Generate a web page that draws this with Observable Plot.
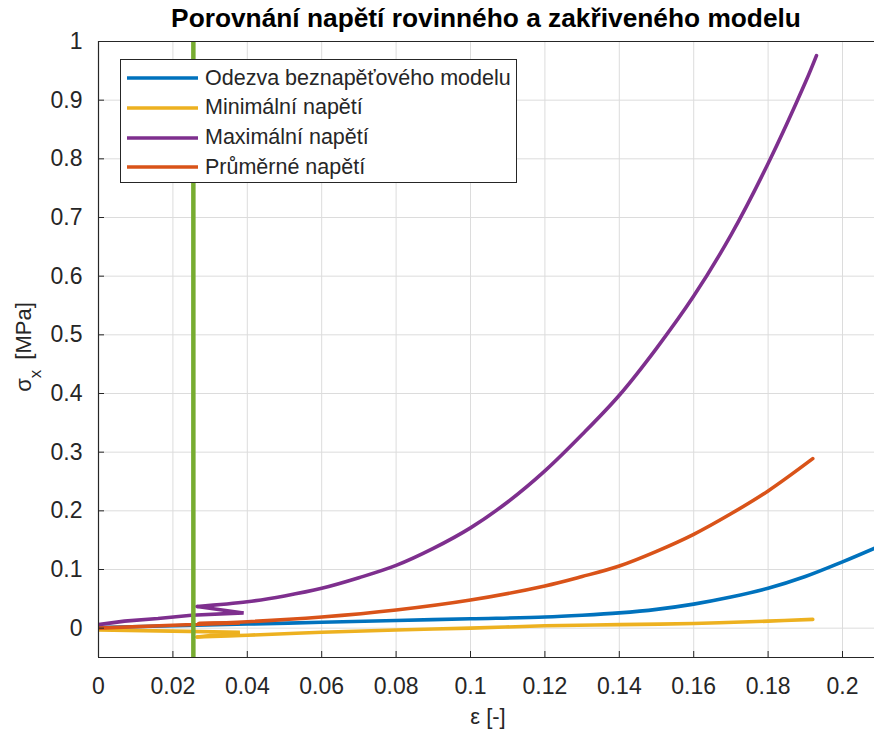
<!DOCTYPE html>
<html><head><meta charset="utf-8">
<script src="https://cdn.jsdelivr.net/npm/d3@7"></script>
<script src="https://cdn.jsdelivr.net/npm/@observablehq/plot@0.6"></script>
<style>
body{margin:0;background:#fff;}
#wrap{position:relative;width:874px;height:730px;overflow:hidden;font-family:"Liberation Sans",Arial,sans-serif;background:#fff;}
#title{position:absolute;left:86px;width:800px;top:3px;text-align:center;font-weight:bold;font-size:26.3px;line-height:30px;color:#000;}
#legend{position:absolute;left:120px;top:59px;width:397px;height:124px;border:1px solid #262626;background:#fff;box-sizing:border-box;}
.lrow{position:absolute;left:0;height:30px;display:flex;align-items:center;font-size:21.5px;color:#262626;}
.lrow svg{margin-left:6px;margin-right:7px;}
#chart{position:absolute;left:0;top:0;}
</style></head>
<body><div id="wrap"><div id="chart"></div><div id="title">Porovnání napětí rovinného a zakřiveného modelu</div><div id="legend"></div></div>
<script>
// series names (legend order)
const seriesNames = ["Odezva beznapěťového modelu", "Minimální napětí", "Maximální napětí", "Průměrné napětí"];
const seriesColors = ["#0072BD", "#EDB120", "#7E2F8E", "#D95319"];

// Odezva beznapěťového modelu (blue)
const epsBlue = [0, 0.02, 0.04, 0.06, 0.08, 0.1, 0.12, 0.13, 0.14, 0.15, 0.16, 0.17, 0.18, 0.19, 0.2, 0.21];
const sigBlue = [0.001, 0.004, 0.007, 0.010, 0.013, 0.016, 0.019, 0.022, 0.026, 0.032, 0.041, 0.053, 0.068, 0.088, 0.113, 0.14];

// Minimální napětí (yellow): initial hook, then main branch
const epsMinHook = [0, 0.02, 0.038, 0.0265];
const sigMinHook = [-0.003, -0.005, -0.007, -0.015];
const epsMin = [0.0265, 0.04, 0.06, 0.08, 0.1, 0.12, 0.14, 0.16, 0.18, 0.192];
const sigMin = [-0.015, -0.012, -0.007, -0.003, 0.0, 0.004, 0.006, 0.008, 0.012, 0.015];

// Maximální napětí (purple): initial hook, then main branch
const epsMaxHook = [0, 0.007, 0.016, 0.025, 0.039, 0.0265];
const sigMaxHook = [0.006, 0.012, 0.0165, 0.022, 0.026, 0.037];
const epsMax = [0.0265, 0.04, 0.05, 0.06, 0.07, 0.08, 0.09, 0.1, 0.11, 0.12, 0.13, 0.14, 0.15, 0.16, 0.17, 0.18, 0.19, 0.193];
const sigMax = [0.037, 0.045, 0.055, 0.068, 0.086, 0.107, 0.136, 0.171, 0.215, 0.268, 0.33, 0.397, 0.477, 0.566, 0.67, 0.792, 0.93, 0.976];

// Průměrné napětí (orange): initial hook, then main branch
const epsAvgHook = [0, 0.02, 0.038, 0.027];
const sigAvgHook = [0.0, 0.005, 0.009, 0.008];
const epsAvg = [0.027, 0.04, 0.06, 0.08, 0.1, 0.12, 0.13, 0.14, 0.15, 0.16, 0.17, 0.18, 0.192];
const sigAvg = [0.008, 0.011, 0.019, 0.031, 0.048, 0.072, 0.088, 0.106, 0.131, 0.16, 0.195, 0.234, 0.289];

// vertical marker (green)
const markerEps = [0.0255];

// axes
const xTicks = [0, 0.02, 0.04, 0.06, 0.08, 0.1, 0.12, 0.14, 0.16, 0.18, 0.2];
const yTicks = [0, 0.1, 0.2, 0.3, 0.4, 0.5, 0.6, 0.7, 0.8, 0.9, 1];
const xDomain = [0, 0.2086];
const yDomain = [-0.05, 1];

const toRows = (xs, ys) => xs.map((x, i) => ({x, y: ys[i]}));

const lw = 3.6;
const smooth = (c) => ({x: "x", y: "y", stroke: c, strokeWidth: lw, clip: true, curve: "catmull-rom", strokeLinejoin: "round"});
const sharp = (c) => ({x: "x", y: "y", stroke: c, strokeWidth: lw, clip: true, curve: "linear", strokeLinejoin: "miter"});
const plot = Plot.plot({
  width: 874, height: 730,
  marginLeft: 98, marginRight: 0, marginTop: 41, marginBottom: 73,
  style: {fontFamily: "'Liberation Sans', Arial, sans-serif", fontSize: "23px", color: "#262626", background: "#fff"},
  x: {domain: xDomain, ticks: xTicks, label: null},
  y: {domain: yDomain, ticks: yTicks, label: null},
  marks: [
    Plot.gridX(xTicks, {stroke: "#dcdcdc", strokeOpacity: 1, strokeWidth: 1}),
    Plot.gridY(yTicks, {stroke: "#dcdcdc", strokeOpacity: 1, strokeWidth: 1}),
    Plot.line(toRows(epsBlue, sigBlue), smooth(seriesColors[0])),
    Plot.line(toRows(epsMinHook, sigMinHook), sharp(seriesColors[1])),
    Plot.line(toRows(epsMin, sigMin), smooth(seriesColors[1])),
    Plot.line(toRows(epsMaxHook, sigMaxHook), sharp(seriesColors[2])),
    Plot.line(toRows(epsMax, sigMax), smooth(seriesColors[2])),
    Plot.line(toRows(epsAvgHook, sigAvgHook), sharp(seriesColors[3])),
    Plot.line(toRows(epsAvg, sigAvg), smooth(seriesColors[3])),
    Plot.ruleX(markerEps, {stroke: "#77AC30", strokeWidth: 4.5}),
    Plot.ruleX([xDomain[0]], {stroke: "#262626", strokeWidth: 1.2}),
    Plot.ruleY([yDomain[0]], {stroke: "#262626", strokeWidth: 1.2}),
    Plot.ruleY([yDomain[1]], {stroke: "#262626", strokeWidth: 1.2}),
    Plot.axisX(xTicks, {tickSize: -6, tickPadding: 26, tickFormat: d => String(+d.toFixed(2)), fill: "#262626", stroke: "#262626"}),
    Plot.axisY(yTicks, {tickSize: -6, tickPadding: 22, tickFormat: d => String(+d.toFixed(1)), fill: "#262626", stroke: "#262626"})
  ]
});
document.getElementById("chart").appendChild(plot);

// axis titles
const svg = d3.select(plot);
svg.append("text").attr("x", 488).attr("y", 724).attr("text-anchor", "middle")
  .attr("font-size", 22).attr("fill", "#262626").text("ε [-]");
const yl = svg.append("text").attr("transform", "translate(31,347) rotate(-90)").attr("text-anchor", "middle")
  .attr("font-size", 22).attr("fill", "#262626");
yl.append("tspan").text("σ");
yl.append("tspan").attr("baseline-shift", "sub").attr("font-size", 17).text("x");
yl.append("tspan").attr("dx", 4).text(" [MPa]");

// legend
const leg = document.getElementById("legend");
seriesNames.forEach((name, i) => {
  const row = document.createElement("div");
  row.className = "lrow";
  row.style.top = (3 + i * 29.8) + "px";
  row.innerHTML = `<svg width="71" height="6"><line x1="0" x2="71" y1="3" y2="3" stroke="${seriesColors[i]}" stroke-width="${lw}"/></svg><span>${name}</span>`;
  leg.appendChild(row);
});
</script></body></html>
